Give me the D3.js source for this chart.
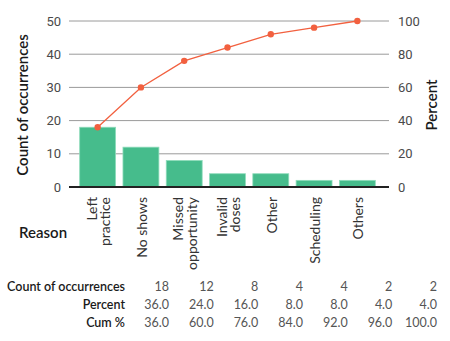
<!DOCTYPE html>
<html>
<head>
<meta charset="utf-8">
<script src="https://cdn.jsdelivr.net/npm/d3@7"></script>
<style>
  body { margin: 0; background: #fff; }
  svg { display: block; font-family: Lato, "Open Sans", sans-serif; }
</style>
</head>
<body>
<div id="chart"></div>
<script>
// pareto data
const reasons = [["Left", "practice"], ["No shows"], ["Missed", "opportunity"], ["Invalid", "doses"], ["Other"], ["Scheduling"], ["Others"]];
const counts = [18, 12, 8, 4, 4, 2, 2];
const percents = [36.0, 24.0, 16.0, 8.0, 8.0, 4.0, 4.0];
const cumPercents = [36.0, 60.0, 76.0, 84.0, 92.0, 96.0, 100.0];
const countTicks = [0, 10, 20, 30, 40, 50];
const percentTicks = [0, 20, 40, 60, 80, 100];

const width = 450, height = 341;
const plotLeft = 69, plotRight = 389, plotTop = 21, plotBottom = 187;

const svg = d3.select("#chart").append("svg")
  .attr("width", width)
  .attr("height", height);

const x = d3.scaleBand()
  .domain(d3.range(counts.length))
  .range([76, 379])
  .paddingInner(0.17)
  .paddingOuter(0.085);

const y = d3.scaleLinear().domain([0, 50]).range([plotBottom, plotTop]);
const yPct = d3.scaleLinear().domain([0, 100]).range([plotBottom, plotTop]);

// gridlines
svg.append("g")
  .selectAll("line")
  .data(countTicks.slice(1))
  .join("line")
  .attr("x1", plotLeft)
  .attr("x2", plotRight)
  .attr("y1", d => y(d))
  .attr("y2", d => y(d))
  .attr("stroke", "#9a9a9a")
  .attr("stroke-width", 1);

// left axis
const leftAxis = svg.append("g")
  .attr("transform", `translate(${plotLeft},0)`)
  .call(d3.axisLeft(y).tickValues(countTicks).tickSize(0).tickPadding(8));
leftAxis.select(".domain").remove();
leftAxis.selectAll("text")
  .attr("fill", "#4a4a4a")
  .style("font-size", "13px")
  .style("font-family", "Roboto, sans-serif");

// right axis
const rightAxis = svg.append("g")
  .attr("transform", `translate(${plotRight},0)`)
  .call(d3.axisRight(yPct).tickValues(percentTicks).tickSize(0).tickPadding(9));
rightAxis.select(".domain").remove();
rightAxis.selectAll("text")
  .attr("fill", "#4a4a4a")
  .style("font-size", "13px")
  .style("font-family", "Roboto, sans-serif");

// bars
svg.append("g")
  .selectAll("rect")
  .data(counts)
  .join("rect")
  .attr("x", (d, i) => x(i))
  .attr("y", d => y(d))
  .attr("width", x.bandwidth())
  .attr("height", d => y(0) - y(d))
  .attr("fill", "#46bc8c")
  .attr("stroke", "#8fdcbb")
  .attr("stroke-width", 0.8);

// baseline
svg.append("line")
  .attr("x1", plotLeft)
  .attr("x2", plotRight)
  .attr("y1", plotBottom)
  .attr("y2", plotBottom)
  .attr("stroke", "#222")
  .attr("stroke-width", 2);

// cumulative line
const line = d3.line()
  .x((d, i) => x(i) + x.bandwidth() / 2)
  .y(d => yPct(d));

svg.append("path")
  .datum(cumPercents)
  .attr("d", line)
  .attr("fill", "none")
  .attr("stroke", "#f2603f")
  .attr("stroke-width", 1.3);

svg.append("g")
  .selectAll("circle")
  .data(cumPercents)
  .join("circle")
  .attr("cx", (d, i) => x(i) + x.bandwidth() / 2)
  .attr("cy", d => yPct(d))
  .attr("r", 3.2)
  .attr("fill", "#f2603f");

// category labels, rotated
const catLabels = svg.append("g")
  .selectAll("g")
  .data(reasons)
  .join("g")
  .attr("transform", (d, i) => `translate(${x(i) + x.bandwidth() / 2 + 1},197) rotate(-90)`);

catLabels.each(function (lines) {
  const g = d3.select(this);
  const lh = 13.5;
  const off = -(lines.length - 1) * lh / 2;
  lines.forEach((t, j) => {
    g.append("text")
      .attr("x", 0)
      .attr("y", off + j * lh)
      .attr("dy", "0.35em")
      .attr("text-anchor", "end")
      .attr("fill", "#333")
      .style("font-size", "14px")
      .text(t);
  });
});

// axis titles
svg.append("text")
  .attr("transform", "translate(28,105) rotate(-90)")
  .attr("text-anchor", "middle")
  .attr("fill", "#1a1a1a")
  .style("font-size", "15px")
  .style("font-weight", "600")
  .text("Count of occurrences");

svg.append("text")
  .attr("transform", "translate(437,105) rotate(-90)")
  .attr("text-anchor", "middle")
  .attr("fill", "#1a1a1a")
  .style("font-size", "15px")
  .style("font-weight", "600")
  .text("Percent");

svg.append("text")
  .attr("x", 19)
  .attr("y", 238)
  .attr("fill", "#1a1a1a")
  .style("font-size", "15px")
  .style("font-weight", "600")
  .text("Reason");

// summary table
const rows = [
  { label: "Count of occurrences", values: counts.map(d => d3.format("d")(d)) },
  { label: "Percent", values: percents.map(d => d3.format(".1f")(d)) },
  { label: "Cum %", values: cumPercents.map(d => d3.format(".1f")(d)) }
];
const colX = d3.scaleLinear().domain([0, counts.length - 1]).range([169, 437]);

const table = svg.append("g");
rows.forEach((row, r) => {
  const yy = 291 + r * 18;
  table.append("text")
    .attr("x", 125)
    .attr("y", yy)
    .attr("text-anchor", "end")
    .attr("fill", "#1a1a1a")
    .style("font-size", "12.5px")
    .style("font-weight", "600")
    .text(row.label);
  table.selectAll(null)
    .data(row.values)
    .join("text")
    .attr("x", (d, i) => colX(i))
    .attr("y", yy)
    .attr("text-anchor", "end")
    .attr("fill", "#555")
    .style("font-size", "12.5px")
    .text(d => d);
});
</script>
</body>
</html>
